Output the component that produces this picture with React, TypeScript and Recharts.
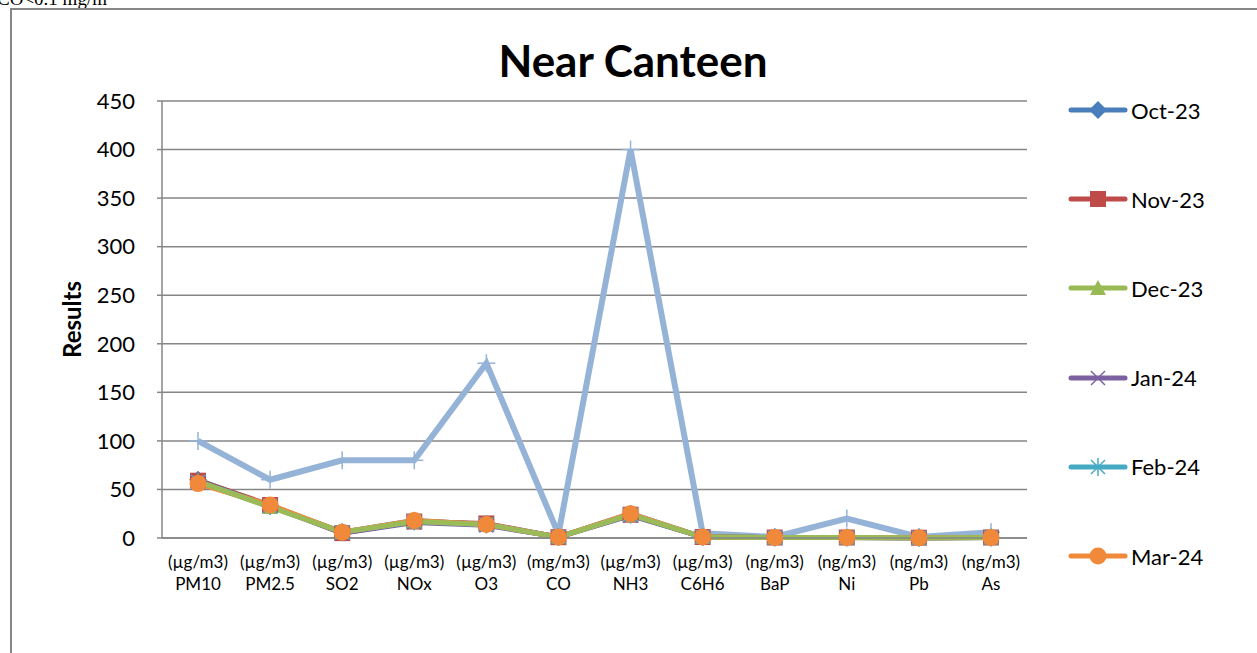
import { LineChart, Line, XAxis, YAxis, CartesianGrid } from 'recharts';

const units = ['(µg/m3)', '(µg/m3)', '(µg/m3)', '(µg/m3)', '(µg/m3)', '(mg/m3)', '(µg/m3)', '(µg/m3)', '(ng/m3)', '(ng/m3)', '(ng/m3)', '(ng/m3)'];
const params = ['PM10', 'PM2.5', 'SO2', 'NOx', 'O3', 'CO', 'NH3', 'C6H6', 'BaP', 'Ni', 'Pb', 'As'];

const limit = [100, 60, 80, 80, 180, 4, 400, 5, 1, 20, 1, 6];
const oct23 = [60, 33, 6, 18, 14, 1, 25, 1, 0.5, 0.5, 0.3, 0.5];
const nov23 = [59, 34, 5, 17, 15, 0.8, 24, 1, 0.5, 0.5, 0.3, 0.5];
const dec23 = [58, 32, 6, 17, 14, 0.9, 24, 1, 0.5, 0.5, 0.3, 0.5];
const jan24 = [57, 33, 5, 16, 13, 1, 23, 1, 0.5, 0.5, 0.3, 0.5];
const feb24 = [58, 33, 6, 17, 14, 1, 24, 1, 0.5, 0.5, 0.3, 0.5];
const mar24 = [56, 34, 6, 18, 14, 1, 25, 1, 0.5, 0.5, 0.3, 0.5];

const yTicks = [0, 50, 100, 150, 200, 250, 300, 350, 400, 450];

const data = params.map((p, i) => ({
  name: p,
  unit: units[i],
  limit: limit[i],
  oct: oct23[i],
  nov: nov23[i],
  dec: dec23[i],
  jan: jan24[i],
  feb: feb24[i],
  mar: mar24[i],
}));

const series = [
  { key: 'oct', label: 'Oct-23', color: '#4A7EBB', shape: 'diamond' },
  { key: 'nov', label: 'Nov-23', color: '#BE4B48', shape: 'square' },
  { key: 'dec', label: 'Dec-23', color: '#98B954', shape: 'triangle' },
  { key: 'jan', label: 'Jan-24', color: '#7D60A0', shape: 'x' },
  { key: 'feb', label: 'Feb-24', color: '#46AAC5', shape: 'star' },
  { key: 'mar', label: 'Mar-24', color: '#F08A3A', shape: 'circle' },
];

const FONT = 'Lato, "Open Sans", sans-serif';
const GRID = '#868686';

function Marker({ cx, cy, shape, color }: { cx: number; cy: number; shape: string; color: string }) {
  if (cx == null || cy == null) return null;
  if (shape === 'diamond') {
    return <polygon points={`${cx},${cy - 9} ${cx + 9},${cy} ${cx},${cy + 9} ${cx - 9},${cy}`} fill={color} />;
  }
  if (shape === 'square') {
    return <rect x={cx - 8} y={cy - 8} width={16} height={16} fill={color} />;
  }
  if (shape === 'triangle') {
    return <polygon points={`${cx},${cy - 8} ${cx + 8},${cy + 7} ${cx - 8},${cy + 7}`} fill={color} />;
  }
  if (shape === 'x') {
    return (
      <g stroke={color} strokeWidth={1.5}>
        <line x1={cx - 7} y1={cy - 7} x2={cx + 7} y2={cy + 7} />
        <line x1={cx - 7} y1={cy + 7} x2={cx + 7} y2={cy - 7} />
      </g>
    );
  }
  if (shape === 'star') {
    return (
      <g stroke={color} strokeWidth={1.5}>
        <line x1={cx - 7} y1={cy - 7} x2={cx + 7} y2={cy + 7} />
        <line x1={cx - 7} y1={cy + 7} x2={cx + 7} y2={cy - 7} />
        <line x1={cx} y1={cy - 9} x2={cx} y2={cy + 9} />
      </g>
    );
  }
  if (shape === 'plus') {
    return (
      <g stroke={color} strokeWidth={1.5}>
        <line x1={cx - 9} y1={cy} x2={cx + 9} y2={cy} />
        <line x1={cx} y1={cy - 9} x2={cx} y2={cy + 9} />
      </g>
    );
  }
  return <circle cx={cx} cy={cy} r={8.5} fill={color} />;
}

function CategoryTick(props: any) {
  const { x, y, payload, index } = props;
  return (
    <text x={x} y={y} textAnchor="middle" fontFamily={FONT} fontSize={17} fill="#000">
      <tspan x={x} dy={30}>{units[index]}</tspan>
      <tspan x={x} dy={22}>{payload.value}</tspan>
    </text>
  );
}

function LegendIcon({ shape, color }: { shape: string; color: string }) {
  return (
    <svg width={62} height={24} style={{ display: 'block' }}>
      <line x1={3} y1={12} x2={57} y2={12} stroke={color} strokeWidth={5} strokeLinecap="round" />
      <Marker cx={30} cy={12} shape={shape} color={color} />
    </svg>
  );
}

export default function App() {
  return (
    <div style={{ position: 'fixed', left: 0, top: 0, width: 1257, height: 653, overflow: 'hidden', background: '#fff', fontFamily: FONT }}>
      <div style={{ position: 'absolute', left: -3, top: -11, fontFamily: '"Liberation Serif", serif', fontSize: 19, lineHeight: '19px', whiteSpace: 'nowrap' }}>
        CO&lt;0.1 mg/m
      </div>
      <div style={{ position: 'absolute', left: 10, top: 8, width: 1300, height: 700, border: `2px solid ${GRID}`, boxSizing: 'border-box' }}>
        <LineChart width={1240} height={640} data={data} margin={{ top: 91, right: 225, left: 0, bottom: 52 }}>
          <CartesianGrid vertical={false} stroke={GRID} strokeWidth={1.5} />
          <XAxis
            dataKey="name"
            interval={0}
            height={60}
            padding={{ left: 36, right: 36 }}
            tickLine={false}
            tickSize={0}
            tickMargin={0}
            axisLine={{ stroke: GRID, strokeWidth: 1.5 }}
            tick={<CategoryTick />}
          />
          <YAxis
            width={150}
            domain={[0, 450]}
            ticks={yTicks}
            interval={0}
            tickSize={5}
            tickMargin={22}
            axisLine={{ stroke: GRID, strokeWidth: 1.5 }}
            tickLine={{ stroke: GRID, strokeWidth: 1.5 }}
            tick={{ fill: '#000', fontSize: 22, fontFamily: FONT }}
            label={{ value: 'Results', angle: -90, position: 'center', dx: -15, style: { fontSize: 24, fontWeight: 700, fill: '#000', fontFamily: FONT } }}
          />
          <Line
            dataKey="limit"
            type="linear"
            stroke="#95B3D7"
            strokeWidth={6}
            isAnimationActive={false}
            dot={(p: any) => <Marker key={`l${p.index}`} cx={p.cx} cy={p.cy} shape="plus" color="#95B3D7" />}
            activeDot={false}
          />
          {series.map((s) => (
            <Line
              key={s.key}
              dataKey={s.key}
              name={s.label}
              type="linear"
              stroke={s.color}
              strokeWidth={5}
              isAnimationActive={false}
              dot={(p: any) => <Marker key={`${s.key}${p.index}`} cx={p.cx} cy={p.cy} shape={s.shape} color={s.color} />}
              activeDot={false}
            />
          ))}
          <Line dataKey="dec" type="linear" stroke="#9BBB59" strokeWidth={5} dot={false} activeDot={false} legendType="none" isAnimationActive={false} />
        </LineChart>
      </div>
      <div style={{ position: 'absolute', left: 0, top: 38, width: 1266, textAlign: 'center', fontSize: 44, lineHeight: '44px', fontWeight: 700 }}>
        Near Canteen
      </div>
      {series.map((s, i) => (
        <div
          key={s.key}
          style={{ position: 'absolute', left: 1068, top: 110 + i * 89.2 - 15, height: 30, display: 'flex', alignItems: 'center', fontSize: 22 }}
        >
          <LegendIcon shape={s.shape} color={s.color} />
          <span style={{ marginLeft: 1 }}>{s.label}</span>
        </div>
      ))}
    </div>
  );
}
